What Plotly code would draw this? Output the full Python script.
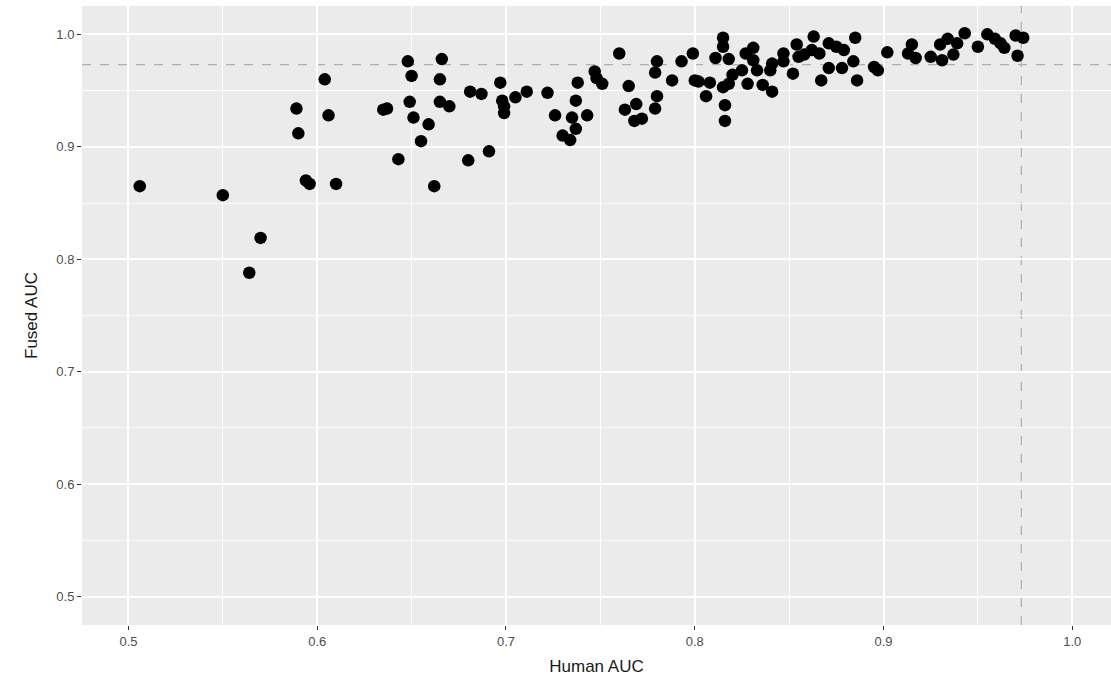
import plotly.graph_objects as go

human_auc = [
    0.506, 0.550, 0.570, 0.564, 0.589, 0.590, 0.594, 0.596, 0.604, 0.606,
    0.610, 0.635, 0.637, 0.643, 0.648, 0.650, 0.649, 0.651, 0.659, 0.655,
    0.662, 0.666, 0.665, 0.665, 0.670, 0.681, 0.687, 0.680, 0.691, 0.697,
    0.698, 0.699, 0.699, 0.705, 0.711, 0.722, 0.726, 0.730, 0.734, 0.737,
    0.735, 0.737, 0.738, 0.743, 0.747, 0.748, 0.751, 0.760, 0.765, 0.763,
    0.769, 0.768, 0.772, 0.779, 0.780, 0.779, 0.780, 0.788, 0.793, 0.799,
    0.800, 0.802, 0.808, 0.806, 0.811, 0.815, 0.815, 0.818, 0.816, 0.816,
    0.815, 0.818, 0.820, 0.825, 0.827, 0.828, 0.831, 0.831, 0.833, 0.836,
    0.841, 0.840, 0.841, 0.847, 0.847, 0.852, 0.854, 0.855, 0.858, 0.863,
    0.862, 0.866, 0.867, 0.871, 0.871, 0.875, 0.879, 0.878, 0.884, 0.885,
    0.886, 0.895, 0.897, 0.902, 0.913, 0.915, 0.917, 0.925, 0.931, 0.930,
    0.934, 0.937, 0.939, 0.943, 0.950, 0.955, 0.959, 0.962, 0.964, 0.970,
    0.974, 0.971,
]
fused_auc = [
    0.865, 0.857, 0.819, 0.788, 0.934, 0.912, 0.870, 0.867, 0.960, 0.928,
    0.867, 0.933, 0.934, 0.889, 0.976, 0.963, 0.940, 0.926, 0.920, 0.905,
    0.865, 0.978, 0.960, 0.940, 0.936, 0.949, 0.947, 0.888, 0.896, 0.957,
    0.941, 0.936, 0.930, 0.944, 0.949, 0.948, 0.928, 0.910, 0.906, 0.916,
    0.926, 0.941, 0.957, 0.928, 0.967, 0.961, 0.956, 0.983, 0.954, 0.933,
    0.938, 0.923, 0.925, 0.934, 0.945, 0.966, 0.976, 0.959, 0.976, 0.983,
    0.959, 0.958, 0.957, 0.945, 0.979, 0.997, 0.989, 0.978, 0.937, 0.923,
    0.953, 0.956, 0.964, 0.968, 0.983, 0.956, 0.988, 0.977, 0.968, 0.955,
    0.949, 0.968, 0.974, 0.983, 0.976, 0.965, 0.991, 0.980, 0.982, 0.998,
    0.986, 0.983, 0.959, 0.992, 0.970, 0.989, 0.986, 0.970, 0.976, 0.997,
    0.959, 0.971, 0.968, 0.984, 0.983, 0.991, 0.979, 0.980, 0.977, 0.991,
    0.996, 0.982, 0.992, 1.001, 0.989, 1.000, 0.996, 0.992, 0.988, 0.999,
    0.997, 0.981,
]
human_ref = 0.973
fused_ref = 0.973

tick_vals = [0.5, 0.6, 0.7, 0.8, 0.9, 1.0]
tick_text = ["0.5", "0.6", "0.7", "0.8", "0.9", "1.0"]

FONT = "Liberation Sans, Arial, sans-serif"

fig = go.Figure()
fig.add_trace(go.Scatter(
    x=human_auc, y=fused_auc, mode="markers",
    marker=dict(color="black", size=12.5, line=dict(width=0)),
    showlegend=False, hoverinfo="x+y",
))

fig.add_hline(y=fused_ref, line=dict(color="#B0B0B0", width=1.2, dash="dash"), layer="below")
fig.add_vline(x=human_ref, line=dict(color="#B0B0B0", width=1.2, dash="dash"), layer="below")

axis_common = dict(
    showgrid=True, gridcolor="white", gridwidth=1.8,
    zeroline=False, showline=False,
    ticks="outside", ticklen=4, tickwidth=1, tickcolor="#333333",
    tickfont=dict(family=FONT, size=13, color="#4D4D4D"),
    tickmode="array", tickvals=tick_vals, ticktext=tick_text,
    minor=dict(showgrid=True, gridcolor="white", gridwidth=0.9,
               tickmode="array", tickvals=[0.45, 0.55, 0.65, 0.75, 0.85, 0.95, 1.05],
               ticks=""),
    layer="below traces",
)

fig.update_layout(
    width=1111, height=680,
    margin=dict(l=82, r=0, t=6, b=55),
    paper_bgcolor="white", plot_bgcolor="#EBEBEB",
    xaxis=dict(range=[0.4754, 1.0205],
               title=dict(text="Human AUC", font=dict(family=FONT, size=17, color="#1A1A1A"), standoff=12),
               **axis_common),
    yaxis=dict(range=[0.4748, 1.0252],
               title=dict(text="Fused AUC", font=dict(family=FONT, size=17, color="#1A1A1A"), standoff=14),
               **axis_common),
)

fig.write_html("out.html")
